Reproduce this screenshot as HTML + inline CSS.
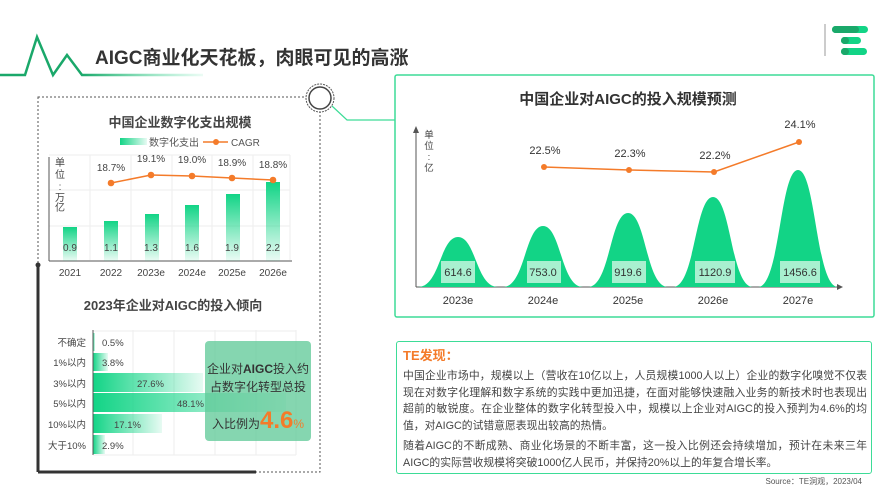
<!DOCTYPE html>
<html><head><meta charset="utf-8"><style>
body{margin:0;width:895px;height:504px;overflow:hidden;background:#fff;font-family:"Liberation Sans","Noto Sans CJK SC",sans-serif;}
svg text{font-family:"Liberation Sans","Noto Sans CJK SC",sans-serif;}
.tb{position:absolute;left:396px;top:341px;width:464px;height:119px;border:1.5px solid #3ddc97;border-radius:3px;padding:6px 4px 6px 6px;box-sizing:content-box;font-size:10.8px;line-height:16.5px;color:#444;text-align:justify;}
</style></head><body>
<svg width="895" height="504" style="position:absolute;left:0;top:0">
<defs>
<linearGradient id="zg" x1="0" x2="1"><stop offset="0.4" stop-color="#1aa86a"/><stop offset="1" stop-color="#3ddc97" stop-opacity="0.1"/></linearGradient>
<linearGradient id="bg" x1="0" y1="0" x2="0" y2="1"><stop offset="0" stop-color="#12d486"/><stop offset="1" stop-color="#12d486" stop-opacity="0.08"/></linearGradient>
<linearGradient id="hg" x1="0" x2="1"><stop offset="0" stop-color="#12d486"/><stop offset="1" stop-color="#12d486" stop-opacity="0.1"/></linearGradient>
</defs>
<polyline points="0,75 25,75 37,37 53,75 67,55 82,75 203,75" fill="none" stroke="url(#zg)" stroke-width="2.5"/>
<text x="95" y="64" font-size="19" font-weight="bold" fill="#333">AIGC商业化天花板，肉眼可见的高涨</text>
<line x1="825" y1="24" x2="825" y2="56" stroke="#bbb" stroke-width="1.5"/>
<rect x="832" y="26" width="36" height="7" rx="3.5" fill="#12d486"/><rect x="832" y="26" width="27" height="7" rx="3.5" fill="#1aa86a"/>
<rect x="841" y="37" width="20" height="7" rx="3.5" fill="#12d486"/><rect x="841" y="37" width="8" height="7" rx="3.5" fill="#1aa86a"/>
<rect x="841" y="48" width="26" height="7" rx="3.5" fill="#12d486"/><rect x="841" y="48" width="8" height="7" rx="3.5" fill="#1aa86a"/>
<rect x="38" y="97" width="282" height="375" fill="none" stroke="#555" stroke-dasharray="2,2" stroke-width="1"/>
<line x1="38" y1="265" x2="38" y2="472" stroke="#333" stroke-width="3"/>
<line x1="38" y1="472" x2="256" y2="472" stroke="#333" stroke-width="3"/>
<circle cx="38" cy="265" r="2.5" fill="#333"/>
<circle cx="320" cy="98" r="14" fill="#fff" stroke="#555" stroke-width="1" stroke-dasharray="2,1"/>
<circle cx="320" cy="98" r="11" fill="#fff" stroke="#444" stroke-width="1.5"/>
<polyline points="332,106 347,120 395,120" fill="none" stroke="#3ddc97" stroke-width="1.2"/>
<text x="180" y="127" font-size="13" font-weight="bold" fill="#444" text-anchor="middle">中国企业数字化支出规模</text>
<rect x="120" y="138" width="27" height="7" fill="url(#hg)"/><text x="149" y="146" font-size="10" fill="#555">数字化支出</text>
<line x1="203" y1="142" x2="228" y2="142" stroke="#f47b2a" stroke-width="1.5"/><circle cx="216" cy="142" r="3" fill="#f47b2a"/><text x="231" y="146" font-size="10" fill="#555">CAGR</text>
<g stroke="#eee" stroke-width="1">
<line x1="49" y1="155" x2="290" y2="155"/><line x1="49" y1="190" x2="290" y2="190"/><line x1="49" y1="226" x2="290" y2="226"/>
<line x1="90" y1="155" x2="90" y2="260"/><line x1="131" y1="155" x2="131" y2="260"/><line x1="172" y1="155" x2="172" y2="260"/><line x1="212" y1="155" x2="212" y2="260"/><line x1="253" y1="155" x2="253" y2="260"/><line x1="290" y1="155" x2="290" y2="260"/>
</g>
<line x1="49" y1="157" x2="49" y2="261" stroke="#555"/><line x1="49" y1="261" x2="292" y2="261" stroke="#555"/>
<g fill="url(#bg)">
<rect x="63" y="227" width="14" height="34"/><rect x="104" y="221" width="14" height="40"/><rect x="145" y="214" width="14" height="47"/><rect x="185" y="205" width="14" height="56"/><rect x="226" y="194" width="14" height="67"/><rect x="266" y="182" width="14" height="79"/>
</g>
<g font-size="10" fill="#444" text-anchor="middle">
<text x="70" y="251">0.9</text><text x="111" y="251">1.1</text><text x="151" y="251">1.3</text><text x="192" y="251">1.6</text><text x="232" y="251">1.9</text><text x="273" y="251">2.2</text>
<text x="70" y="276">2021</text><text x="111" y="276">2022</text><text x="151" y="276">2023e</text><text x="192" y="276">2024e</text><text x="232" y="276">2025e</text><text x="273" y="276">2026e</text>
<text x="111" y="171">18.7%</text><text x="151" y="162">19.1%</text><text x="192" y="163">19.0%</text><text x="232" y="166">18.9%</text><text x="273" y="168">18.8%</text>
<text x="60" y="166">单</text><text x="60" y="178">位</text><text x="60" y="190">:</text><text x="60" y="201">万</text><text x="60" y="211">亿</text>
</g>
<polyline points="111,183 151,175 192,176 232,178 273,180" fill="none" stroke="#f47b2a" stroke-width="1.5"/>
<g fill="#f47b2a"><circle cx="111" cy="183" r="3.3"/><circle cx="151" cy="175" r="3.3"/><circle cx="192" cy="176" r="3.3"/><circle cx="232" cy="178" r="3.3"/><circle cx="273" cy="180" r="3.3"/></g>
<text x="173" y="310" font-size="13" font-weight="bold" fill="#444" text-anchor="middle">2023年企业对AIGC的投入倾向</text>
<g stroke="#eee"><line x1="133" y1="330" x2="133" y2="455"/><line x1="174" y1="330" x2="174" y2="455"/><line x1="215" y1="330" x2="215" y2="455"/><line x1="256" y1="330" x2="256" y2="455"/><line x1="296" y1="330" x2="296" y2="455"/><line x1="93" y1="331" x2="296" y2="331"/><line x1="93" y1="455" x2="296" y2="455"/></g>
<g fill="url(#hg)">
<rect x="93" y="333" width="2" height="18"/><rect x="93" y="353" width="15" height="18"/><rect x="93" y="373" width="110" height="19"/><rect x="93" y="393" width="193" height="19"/><rect x="93" y="414" width="69" height="19"/><rect x="93" y="435" width="12" height="19"/>
</g>
<line x1="93" y1="330" x2="93" y2="455" stroke="#555"/>
<g font-size="9.5" fill="#444">
<text x="86" y="346" text-anchor="end">不确定</text><text x="86" y="366" text-anchor="end">1%以内</text><text x="86" y="387" text-anchor="end">3%以内</text><text x="86" y="407" text-anchor="end">5%以内</text><text x="86" y="428" text-anchor="end">10%以内</text><text x="86" y="449" text-anchor="end">大于10%</text>
<text x="102" y="346">0.5%</text><text x="102" y="366">3.8%</text><text x="137" y="387">27.6%</text><text x="177" y="407">48.1%</text><text x="114" y="428">17.1%</text><text x="102" y="449">2.9%</text>
</g>
<rect x="205" y="341" width="106" height="100" rx="4" fill="#5cc896" fill-opacity="0.75"/>
<text x="258" y="373" font-size="12" fill="#333" text-anchor="middle">企业对<tspan font-weight="bold">AIGC</tspan>投入约</text>
<text x="258" y="391" font-size="12" fill="#333" text-anchor="middle">占数字化转型总投</text>
<text x="212" y="428" font-size="12" fill="#333">入比例为<tspan font-size="24" font-weight="bold" fill="#f47b2a">4.6</tspan><tspan font-size="12" fill="#f47b2a">%</tspan></text>
<rect x="395" y="75" width="479" height="242" fill="none" stroke="#3ddc97" stroke-width="1.5" rx="2"/>
<text x="628" y="104" font-size="15" font-weight="bold" fill="#333" text-anchor="middle">中国企业对AIGC的投入规模预测</text>
<line x1="416" y1="130" x2="416" y2="287" stroke="#555"/><path d="M413,133 L416,126 L419,133Z" fill="#555"/>
<line x1="416" y1="287" x2="840" y2="287" stroke="#555"/><path d="M837,284 L843,287 L837,290Z" fill="#555"/>
<g fill="#12d486">
<path d="M418,287 C440,287 440,237 458,237 C476,237 476,287 498,287Z"/>
<path d="M503,287 C525,287 525,226 543,226 C561,226 561,287 583,287Z"/>
<path d="M588,287 C610,287 610,213 628,213 C646,213 646,287 668,287Z"/>
<path d="M673,287 C695,287 695,197 713,197 C731,197 731,287 753,287Z"/>
<path d="M758,287 C780,287 780,170 798,170 C816,170 816,287 838,287Z"/>
</g>
<g fill="#a8f0d0"><rect x="441" y="261" width="34" height="22"/><rect x="527" y="261" width="34" height="22"/><rect x="612" y="261" width="34" height="22"/><rect x="695" y="261" width="40" height="22"/><rect x="780" y="261" width="40" height="22"/></g>
<g font-size="11" fill="#333" text-anchor="middle">
<text x="458" y="276">614.6</text><text x="543" y="276">753.0</text><text x="628" y="276">919.6</text><text x="715" y="276">1120.9</text><text x="800" y="276">1456.6</text>
<text x="458" y="304">2023e</text><text x="543" y="304">2024e</text><text x="628" y="304">2025e</text><text x="713" y="304">2026e</text><text x="798" y="304">2027e</text>
<text x="545" y="154">22.5%</text><text x="630" y="157">22.3%</text><text x="715" y="159">22.2%</text><text x="800" y="128">24.1%</text>
</g>
<g font-size="9.5" fill="#444" text-anchor="middle"><text x="429" y="138">单</text><text x="429" y="149">位</text><text x="429" y="160">:</text><text x="429" y="171">亿</text></g>
<polyline points="544,167 629,170 714,172 799,142" fill="none" stroke="#f47b2a" stroke-width="1.5"/>
<g fill="#f47b2a"><circle cx="544" cy="167" r="3"/><circle cx="629" cy="170" r="3"/><circle cx="714" cy="172" r="3"/><circle cx="799" cy="142" r="3"/></g>
<text x="862" y="484" font-size="8" fill="#555" text-anchor="end">Source：TE洞观，2023/04</text>
</svg>
<div class="tb">
<div style="color:#f47b2a;font-weight:bold;font-size:13px;line-height:16px;margin-bottom:4px;">TE发现：</div>
<div>中国企业市场中，规模以上（营收在10亿以上，人员规模1000人以上）企业的数字化嗅觉不仅表现在对数字化理解和数字系统的实践中更加迅捷，在面对能够快速融入业务的新技术时也表现出超前的敏锐度。在企业整体的数字化转型投入中，规模以上企业对AIGC的投入预判为4.6%的均值，对AIGC的试错意愿表现出较高的热情。</div>
<div style="margin-top:4px;">随着AIGC的不断成熟、商业化场景的不断丰富，这一投入比例还会持续增加，预计在未来三年AIGC的实际营收规模将突破1000亿人民币，并保持20%以上的年复合增长率。</div>
</div>
</body></html>
